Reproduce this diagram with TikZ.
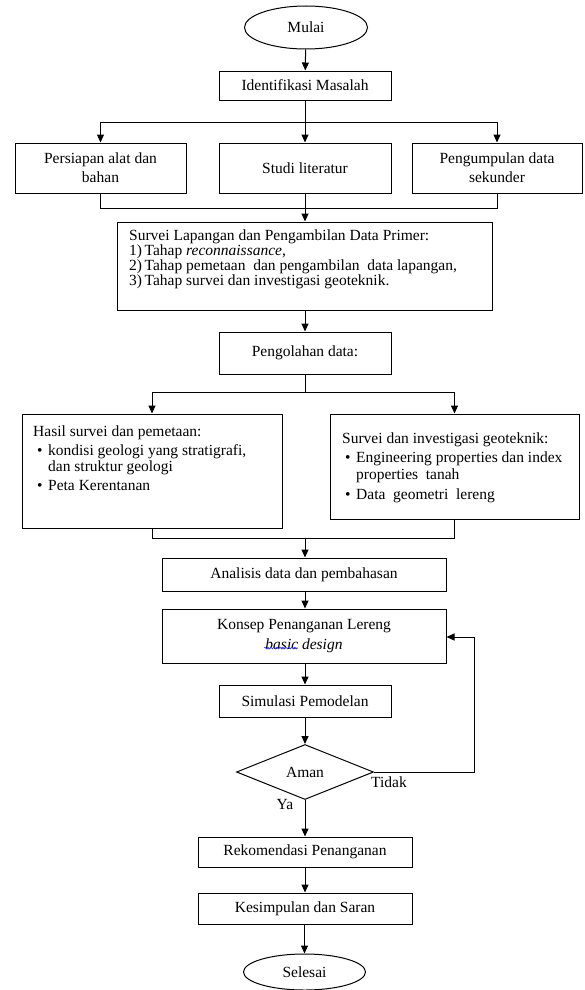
\documentclass[tikz,border=0pt]{standalone}
\usepackage{fontspec}
\setmainfont{Liberation Serif}
\usetikzlibrary{arrows.meta,shapes.geometric,decorations.pathmorphing}
\begin{document}
\begin{tikzpicture}[x=1pt,y=-1pt,
  every node/.style={font=\fontsize{15.5}{19}\selectfont},
  box/.style={draw,line width=1pt,rectangle,inner sep=0pt,align=center},
  term/.style={draw,line width=1pt,ellipse,inner sep=0pt},
  txt/.style={inner sep=0pt,align=left,anchor=west},
  arr/.style={line width=1pt,-{Triangle[length=8pt,width=7pt]}},
  ln/.style={line width=1pt}]
\useasboundingbox (0,0) rectangle (584,990);

% nodes
\node[term,minimum width=123,minimum height=43] (mulai) at (306,27.5) {Mulai};
\node[box,minimum width=172,minimum height=29] (ident) at (305,85.5) {Identifikasi Masalah};
\node[box,minimum width=171,minimum height=50] (persiapan) at (100.5,168) {Persiapan alat dan\\bahan};
\node[box,minimum width=172,minimum height=50] (studi) at (305,168) {Studi literatur};
\node[box,minimum width=170,minimum height=50] (pengumpulan) at (497,168) {Pengumpulan data\\sekunder};
\node[box,minimum width=375,minimum height=88] (survei) at (304.5,266) {};
\node[txt,font=\fontsize{15.5}{15}\selectfont] (surveitext) at (129,259.5) {Survei Lapangan dan Pengambilan Data Primer:\\
1)\,Tahap \textit{reconnaissance},\\
2)\,Tahap pemetaan\ \ dan pengambilan\ \ data lapangan,\\
3)\,Tahap survei dan investigasi geoteknik.};
\node[box,minimum width=172,minimum height=42] (pengolahan) at (305,353) {Pengolahan data:};
\node[box,minimum width=260,minimum height=114] (hasil) at (152,471) {};
\node[txt,font=\fontsize{15.5}{16}\selectfont] (hasiltext) at (33,458) {Hasil survei dan pemetaan:\\[3pt]
\hspace*{4pt}\makebox[11pt][l]{\textbullet}kondisi geologi yang stratigrafi,\\
\hspace*{15pt}dan struktur geologi\\[3pt]
\hspace*{4pt}\makebox[11pt][l]{\textbullet}Peta Kerentanan};
\node[box,minimum width=249,minimum height=105] (geotek) at (454.5,466.5) {};
\node[txt,font=\fontsize{15.5}{17}\selectfont] (geotektext) at (342,468) {Survei dan investigasi geoteknik:\\[2pt]
\hspace*{3pt}\makebox[11pt][l]{\textbullet}Engineering properties dan index\\
\hspace*{14pt}properties\ \ tanah\\[3pt]
\hspace*{3pt}\makebox[11pt][l]{\textbullet}Data\ \ geometri\ \ lereng};
\node[box,minimum width=284,minimum height=33] (analisis) at (304,574.5) {Analisis data dan pembahasan};
\node[box,minimum width=284,minimum height=54,font=\fontsize{15.5}{20}\selectfont] (konsep) at (304,636) {Konsep Penanganan Lereng\\\textit{basic design}};
\node[box,minimum width=172,minimum height=32] (simulasi) at (305,701) {Simulasi Pemodelan};
\node[draw,line width=1pt,diamond,aspect=2.5,inner sep=0pt,minimum width=137,minimum height=55] (aman) at (305,772) {Aman};
\node[box,minimum width=214,minimum height=30] (rekom) at (305,852) {Rekomendasi Penanganan};
\node[box,minimum width=214,minimum height=31] (kesimpulan) at (305,908.5) {Kesimpulan dan Saran};
\node[term,minimum width=122,minimum height=36] (selesai) at (304.5,972) {Selesai};
\node[inner sep=0pt,anchor=west] (tidak) at (371,782) {Tidak};
\node[inner sep=0pt] (ya) at (285,804) {Ya};

% spell-check underline
\draw[blue!80!white,line width=0.6pt,decorate,decoration={snake,amplitude=0.9pt,segment length=3pt}] (264,648) -- (298,648);

% junctions
\coordinate (j1) at (305,122);
\coordinate (j2) at (305,208);
\coordinate (j3) at (305,392);
\coordinate (j4) at (305,538);
\coordinate (fb) at (474,637);

% connectors
\draw[arr] (mulai) -- (ident);
\draw[ln] (persiapan.north |- j1) -- (pengumpulan.north |- j1);
\draw[arr] (ident.south) -- (studi.north);
\draw[arr] (persiapan.north |- j1) -- (persiapan.north);
\draw[arr] (pengumpulan.north |- j1) -- (pengumpulan.north);
\draw[ln] (persiapan.south) -- (persiapan.south |- j2) -- (pengumpulan.south |- j2) -- (pengumpulan.south);
\draw[arr] (studi.south) -- (studi.south |- survei.north);
\draw[arr] (survei.south -| pengolahan.north) -- (pengolahan.north);
\draw[ln] (pengolahan.south) -- (j3);
\draw[arr] (j3) -| (hasil.north);
\draw[arr] (j3) -| (geotek.north);
\draw[ln] (hasil.south) -- (hasil.south |- j4) -- (geotek.south |- j4) -- (geotek.south);
\draw[arr] (j4) -- (j4 |- analisis.north);
\draw[arr] (analisis.south -| j4) -- (konsep.north -| j4);
\draw[arr] (konsep.south -| simulasi.north) -- (simulasi.north);
\draw[arr] (simulasi.south) -- (aman.north);
\draw[arr] (aman.east) -| (fb) -- (konsep.east |- fb);
\draw[arr] (aman.south) -- (rekom.north);
\draw[arr] (rekom.south) -- (kesimpulan.north);
\draw[arr] (kesimpulan.south -| selesai.north) -- (selesai.north);
\end{tikzpicture}
\end{document}
